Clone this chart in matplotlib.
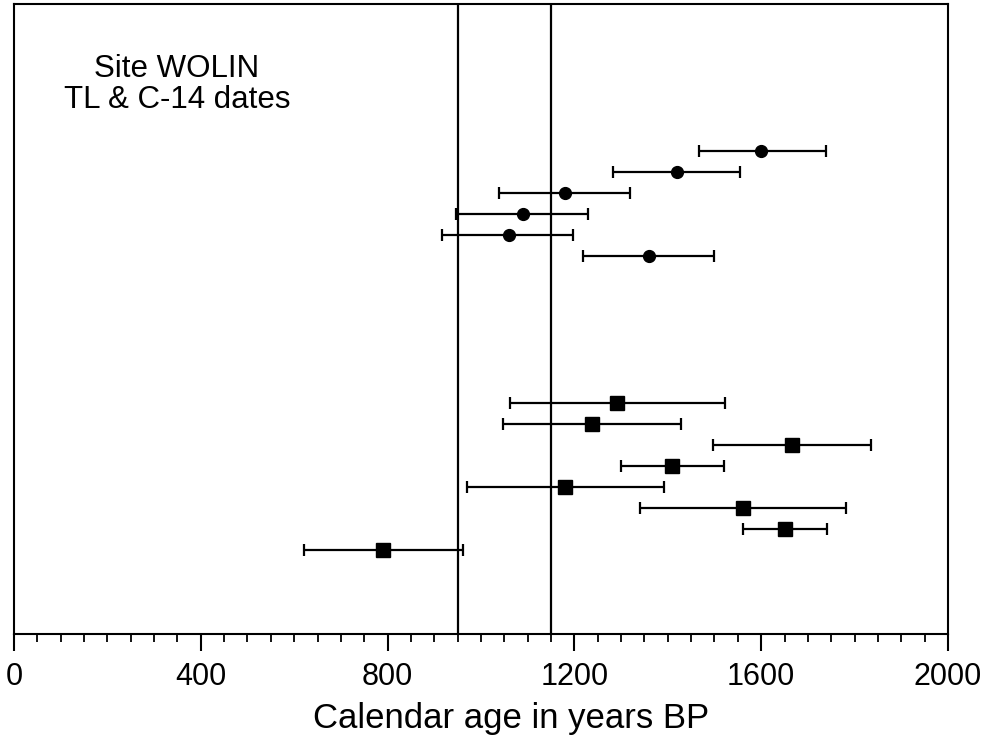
import numpy as np
import matplotlib.pyplot as plt
from matplotlib.ticker import MultipleLocator

plt.rcParams['font.family'] = ['Liberation Sans', 'DejaVu Sans']

# TL dates (circles): age, lower end, upper end
tl_age = [1600, 1420, 1180, 1090, 1060, 1360]
tl_lo = [1467, 1283, 1038, 946, 917, 1219]
tl_hi = [1739, 1554, 1319, 1230, 1198, 1500]
tl_row = [7, 8, 9, 10, 11, 12]

# C-14 dates (squares)
c14_age = [1292, 1237, 1665, 1409, 1180, 1561, 1650, 790]
c14_lo = [1062, 1047, 1496, 1299, 970, 1340, 1561, 620]
c14_hi = [1522, 1428, 1836, 1520, 1392, 1782, 1742, 961]
c14_row = [19, 20, 21, 22, 23, 24, 25, 26]

# boundary lines
bounds = [950, 1150]

fig = plt.figure(figsize=(9.92, 7.38), dpi=100)
ax = fig.add_axes([0.0141, 0.1409, 0.9415, 0.8537])

for v in bounds:
    ax.axvline(v, color='black', lw=1.6, zorder=1)

def draw(age, lo, hi, rows, marker, ms):
    age = np.array(age)
    err = [age - np.array(lo), np.array(hi) - age]
    ax.errorbar(age, rows, xerr=err, fmt=marker, color='black', ms=ms,
                elinewidth=1.6, capsize=4.5, capthick=1.6, zorder=3)

draw(tl_age, tl_lo, tl_hi, tl_row, 'o', 8.5)
draw(c14_age, c14_lo, c14_hi, c14_row, 's', 9.5)

ax.set_xlim(0, 2000)
ax.set_ylim(30, 0)
ax.xaxis.set_major_locator(MultipleLocator(400))
ax.xaxis.set_minor_locator(MultipleLocator(50))
ax.tick_params(axis='x', which='major', direction='out', length=12, width=1.5,
               labelsize=22, pad=8)
ax.tick_params(axis='x', which='minor', direction='out', length=6, width=1.3)
ax.set_yticks([])
for s in ax.spines.values():
    s.set_linewidth(1.5)

ax.set_xlabel('Calendar age in years BP', fontsize=25)
ax.xaxis.set_label_coords(0.532, -0.108)
ax.text(349, 3.85, 'Site WOLIN\nTL & C-14 dates', fontsize=22.5, ha='center',
        va='center', linespacing=1.05)

fig.savefig('out.png', dpi=100)
